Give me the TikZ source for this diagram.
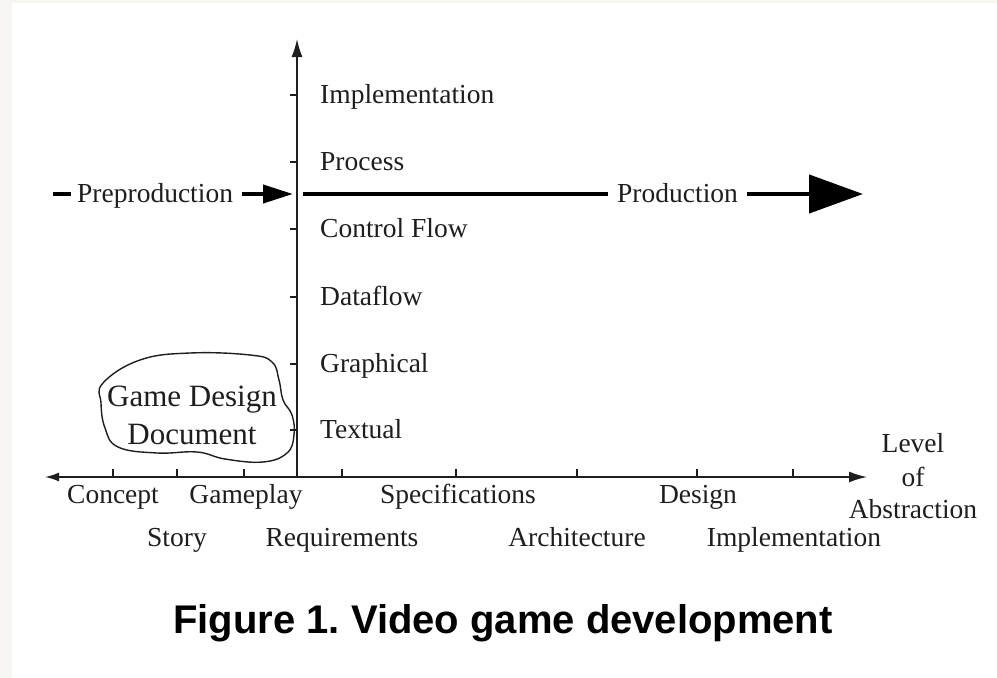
\documentclass[tikz,border=0pt]{standalone}
\usepackage{fontspec}
\setmainfont{Liberation Serif}
\newfontfamily\capfont{Liberation Sans}
\usetikzlibrary{arrows.meta}
\definecolor{bgframe}{HTML}{F6F5F1}
\definecolor{ink}{HTML}{1E1E1E}
\frenchspacing
\begin{document}
\begin{tikzpicture}[x=1pt,y=-1pt,
  lbl/.style={font=\fontsize{27.5}{32}\selectfont, text=ink, inner sep=0pt},
  axis/.style={draw=ink, line width=1.7pt},
  tick/.style={draw=ink, line width=1.3pt},
  thickarrow/.style={draw=black, line width=4.5pt}]
\useasboundingbox (0,0) rectangle (997,678);
\fill[bgframe] (0,0) rectangle (997,678);
\fill[white] (12,3) rectangle (997,678);

% axes
\coordinate (O) at (297,477);
\coordinate (vtop) at (297,39);
\coordinate (hleft) at (45,477);
\coordinate (hright) at (867,477);
\draw[axis, -{Latex[length=18pt,width=11pt]}] (O) -- (vtop);
\draw[axis, {Latex[length=14pt,width=9pt]}-{Latex[length=18pt,width=11pt]}] (hleft) -- (hright);

% vertical ticks and labels
\foreach \y/\t/\n in {95/Implementation/vi, 162/Process/vp, 229/Control Flow/vc, 297/Dataflow/vd, 364/Graphical/vg, 430/Textual/vt}{
  \draw[tick] (297,\y) -- (290,\y);
  \node[lbl, anchor=base west] (\n) at (320,\y+8) {\t};
}

% horizontal ticks
\foreach \x in {113,177,244,342,456,577,697,793}{
  \draw[tick] (\x,477) -- (\x,469);
}

% horizontal labels
\node[lbl, anchor=base] (concept) at (113,503) {Concept};
\node[lbl, anchor=base] (gameplay) at (246,503) {Gameplay};
\node[lbl, anchor=base] (spec) at (458,503) {Specifications};
\node[lbl, anchor=base] (design) at (698,503) {Design};
\node[lbl, anchor=base] (story) at (177,546) {Story};
\node[lbl, anchor=base] (req) at (342,546) {Requirements};
\node[lbl, anchor=base] (arch) at (577,546) {Architecture};
\node[lbl, anchor=base] (impl) at (794,546) {Implementation};
\node[lbl, anchor=base] (level) at (913,452) {Level};
\node[lbl, anchor=base] (of) at (913,486) {of};
\node[lbl, anchor=base] (abs) at (913,518) {Abstraction};

% preproduction
\node[lbl, anchor=base west] (pre) at (77,202) {Preproduction};
\coordinate (predash) at (53,194);
\coordinate (pretip) at (293,194);
\draw[black, line width=4pt] (predash) -- ++(18,0);
\draw[black, line width=4pt, -{Triangle[length=30pt,width=18pt]}] ([xshift=9pt]pre.east |- pretip) -- (pretip);

% production
\node[lbl, anchor=base west] (prod) at (617,202) {Production};
\coordinate (prodstart) at (303,194);
\coordinate (prodtip) at (863,194);
\draw[thickarrow] (prodstart) -- ([xshift=-9pt]prod.west |- prodstart);
\draw[thickarrow, -{Triangle[length=54pt,width=38pt]}] ([xshift=9pt]prod.east |- prodtip) -- (prodtip);

% game design document blob
\draw[ink, line width=1.4pt] plot[smooth cycle, tension=0.7] coordinates {
  (103,383) (140,360) (190,353) (250,355) (272,362) (279,380) (283,400)
  (292,415) (294,435) (287,453) (263,462) (225,459) (197,452) (157,453)
  (118,447) (105,428) (101,403)};
\node[lbl, anchor=base, font=\fontsize{31}{36}\selectfont] (gdd1) at (192,406) {Game Design};
\node[lbl, anchor=base, font=\fontsize{31}{36}\selectfont] (gdd2) at (192,444) {Document};

% caption
\node[inner sep=0pt, anchor=base, font=\capfont\bfseries\fontsize{40}{46}\selectfont] (cap) at (503,633) {Figure 1. Video game development};
\end{tikzpicture}
\end{document}
